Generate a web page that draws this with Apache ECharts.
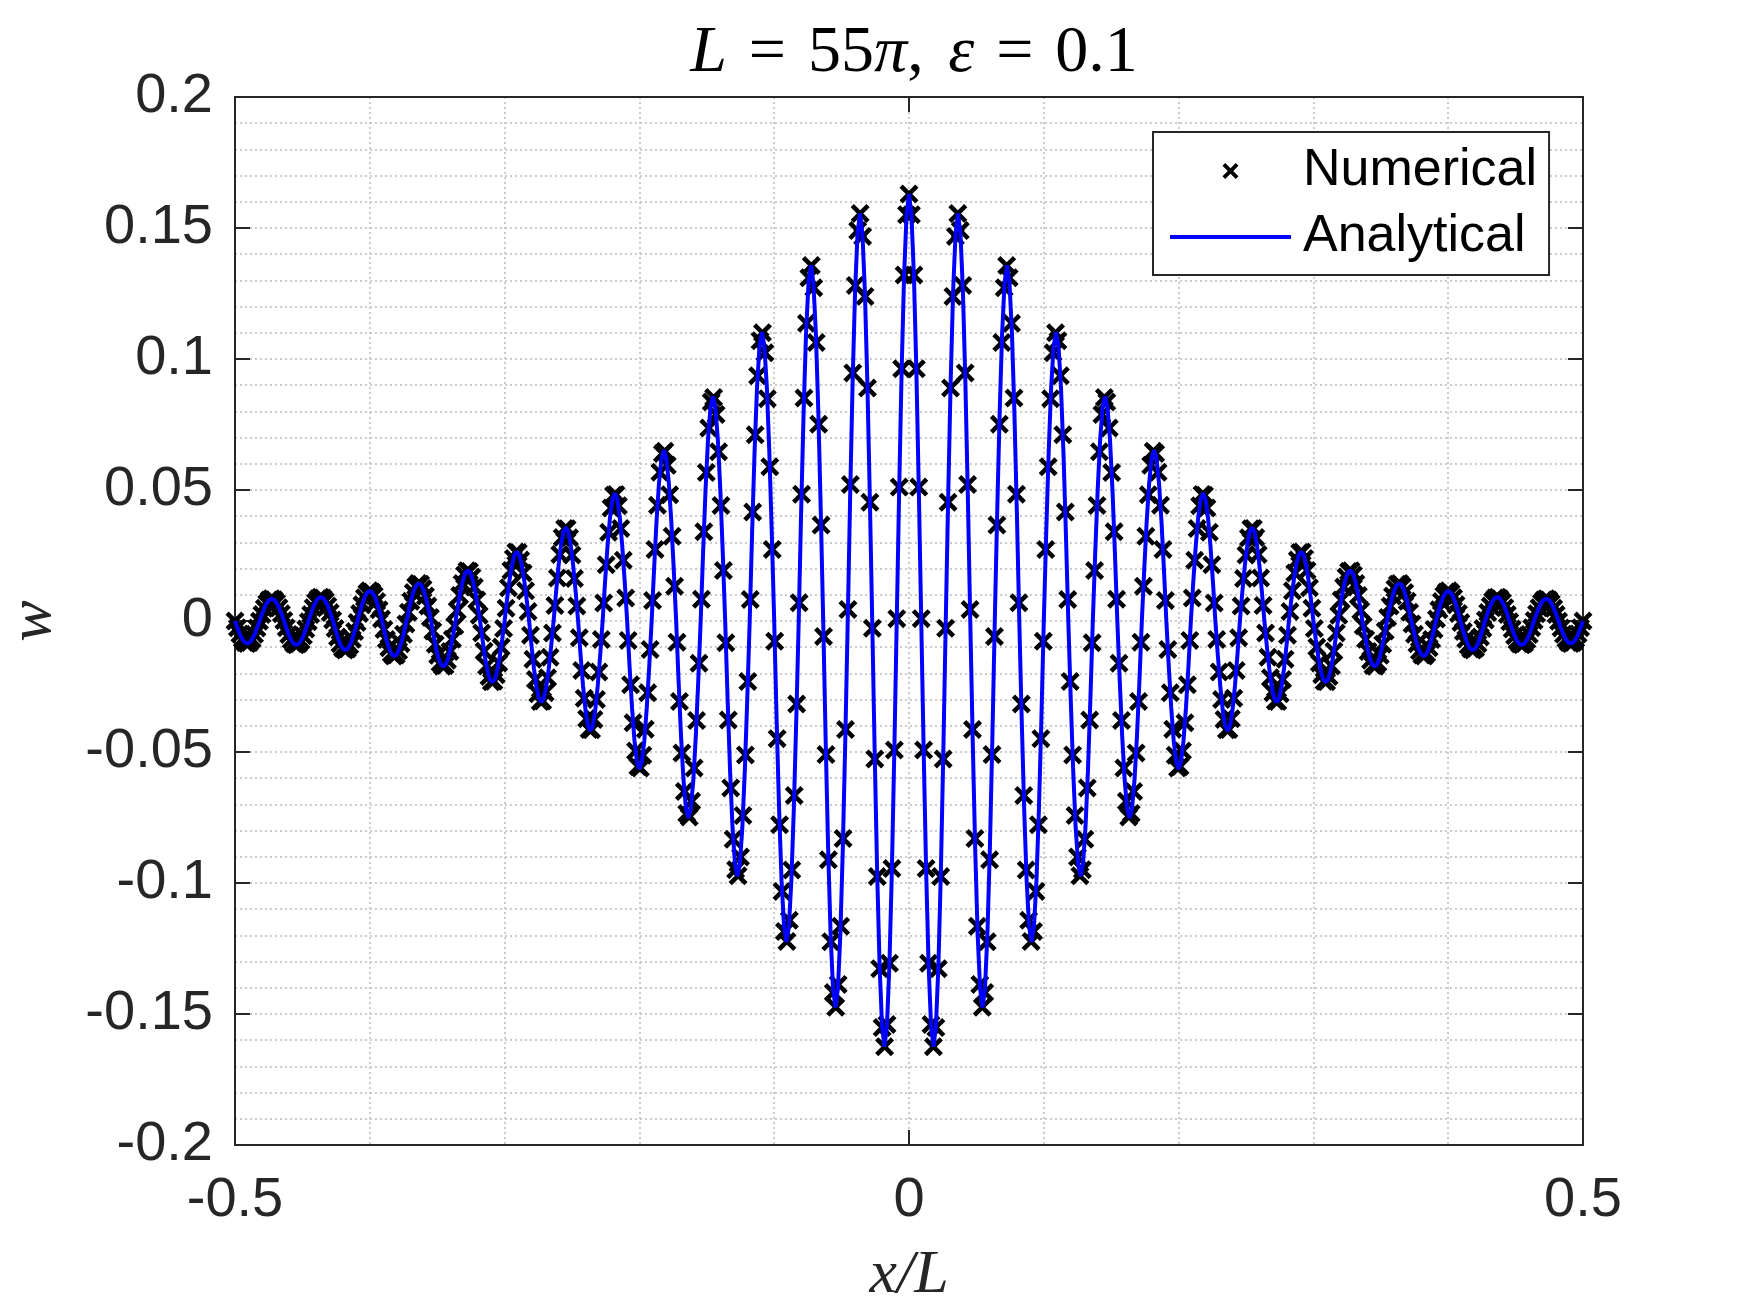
<!DOCTYPE html>
<html>
<head>
<meta charset="utf-8">
<title>L = 55π, ε = 0.1</title>
<script src="https://cdn.jsdelivr.net/npm/echarts@6.0.0/dist/echarts.min.js"></script>
<style>
  html, body { margin: 0; padding: 0; background: #fff; }
  #chart { width: 1750px; height: 1313px; }
</style>
</head>
<body>
<div id="chart"></div>
<script>
// both curves run over x/L = -0.5 ... 0.5 on an even grid
const xStart = -0.5
const analyticalStep = 1 / 550   // 551 points
const numericalStep = 1 / 552    // 553 points

// analytical solution w(x/L), one half wave per line
const wAnalytical = [
  0, -.0027, -.0051, -.0070, -.0082, -.0086, -.0082, -.0070, -.0051, -.0027,
  0, .0026, .0050, .0069, .0081, .0085, .0081, .0069, .0050, .0026,
  0, -.0028, -.0054, -.0074, -.0087, -.0091, -.0087, -.0074, -.0054, -.0028,
  0, .0028, .0054, .0074, .0087, .0091, .0087, .0074, .0054, .0028,
  0, -.0034, -.0065, -.0090, -.0106, -.0111, -.0106, -.0090, -.0065, -.0034,
  0, .0036, .0068, .0093, .0109, .0115, .0109, .0093, .0068, .0036,
  0, -.0041, -.0079, -.0108, -.0127, -.0134, -.0127, -.0108, -.0079, -.0041,
  0, .0044, .0085, .0116, .0137, .0144, .0137, .0116, .0085, .0044,
  0, -.0054, -.0102, -.0141, -.0165, -.0174, -.0165, -.0141, -.0102, -.0054,
  0, .0060, .0113, .0156, .0184, .0193, .0184, .0156, .0113, .0060,
  0, -.0072, -.0138, -.0189, -.0223, -.0234, -.0223, -.0189, -.0138, -.0072,
  0, .0082, .0156, .0214, .0252, .0265, .0252, .0214, .0156, .0082,
  0, -.0096, -.0182, -.0251, -.0295, -.0310, -.0295, -.0251, -.0182, -.0096,
  0, .0110, .0210, .0289, .0340, .0357, .0340, .0289, .0210, .0110,
  0, -.0130, -.0247, -.0340, -.0399, -.0420, -.0399, -.0340, -.0247, -.0130,
  0, .0151, .0287, .0395, .0464, .0488, .0464, .0395, .0287, .0151,
  0, -.0175, -.0332, -.0457, -.0537, -.0565, -.0537, -.0457, -.0332, -.0175,
  0, .0201, .0383, .0527, .0620, .0652, .0620, .0527, .0383, .0201,
  0, -.0232, -.0442, -.0608, -.0715, -.0752, -.0715, -.0608, -.0442, -.0232,
  0, .0265, .0504, .0693, .0815, .0857, .0815, .0693, .0504, .0265,
  0, -.0301, -.0573, -.0789, -.0927, -.0975, -.0927, -.0789, -.0573, -.0301,
  0, .0341, .0649, .0892, .1049, .1103, .1049, .0892, .0649, .0341,
  0, -.0379, -.0720, -.0991, -.1165, -.1225, -.1165, -.0991, -.0720, -.0379,
  0, .0420, .0799, .1099, .1291, .1358, .1291, .1099, .0799, .0420,
  0, -.0456, -.0867, -.1193, -.1403, -.1475, -.1403, -.1193, -.0867, -.0456,
  0, .0480, .0914, .1258, .1479, .1555, .1479, .1258, .0914, .0480,
  0, -.0502, -.0956, -.1315, -.1545, -.1625, -.1545, -.1315, -.0956, -.0502,
  0, .0504, .0958, .1319, .1550, .1630, .1550, .1319, .0958, .0504,
  0, -.0502, -.0956, -.1315, -.1545, -.1625, -.1545, -.1315, -.0956, -.0502,
  0, .0480, .0914, .1258, .1479, .1555, .1479, .1258, .0914, .0480,
  0, -.0456, -.0867, -.1193, -.1403, -.1475, -.1403, -.1193, -.0867, -.0456,
  0, .0420, .0799, .1099, .1291, .1358, .1291, .1099, .0799, .0420,
  0, -.0379, -.0720, -.0991, -.1165, -.1225, -.1165, -.0991, -.0720, -.0379,
  0, .0341, .0649, .0892, .1049, .1103, .1049, .0892, .0649, .0341,
  0, -.0301, -.0573, -.0789, -.0927, -.0975, -.0927, -.0789, -.0573, -.0301,
  0, .0265, .0504, .0693, .0815, .0857, .0815, .0693, .0504, .0265,
  0, -.0232, -.0442, -.0608, -.0715, -.0752, -.0715, -.0608, -.0442, -.0232,
  0, .0201, .0383, .0527, .0620, .0652, .0620, .0527, .0383, .0201,
  0, -.0175, -.0332, -.0457, -.0537, -.0565, -.0537, -.0457, -.0332, -.0175,
  0, .0151, .0287, .0395, .0464, .0488, .0464, .0395, .0287, .0151,
  0, -.0130, -.0247, -.0340, -.0399, -.0420, -.0399, -.0340, -.0247, -.0130,
  0, .0110, .0210, .0289, .0340, .0357, .0340, .0289, .0210, .0110,
  0, -.0096, -.0182, -.0251, -.0295, -.0310, -.0295, -.0251, -.0182, -.0096,
  0, .0082, .0156, .0214, .0252, .0265, .0252, .0214, .0156, .0082,
  0, -.0072, -.0138, -.0189, -.0223, -.0234, -.0223, -.0189, -.0138, -.0072,
  0, .0060, .0113, .0156, .0184, .0193, .0184, .0156, .0113, .0060,
  0, -.0054, -.0102, -.0141, -.0165, -.0174, -.0165, -.0141, -.0102, -.0054,
  0, .0044, .0085, .0116, .0137, .0144, .0137, .0116, .0085, .0044,
  0, -.0041, -.0079, -.0108, -.0127, -.0134, -.0127, -.0108, -.0079, -.0041,
  0, .0036, .0068, .0093, .0109, .0115, .0109, .0093, .0068, .0036,
  0, -.0034, -.0065, -.0090, -.0106, -.0111, -.0106, -.0090, -.0065, -.0034,
  0, .0028, .0054, .0074, .0087, .0091, .0087, .0074, .0054, .0028,
  0, -.0028, -.0054, -.0074, -.0087, -.0091, -.0087, -.0074, -.0054, -.0028,
  0, .0026, .0050, .0069, .0081, .0085, .0081, .0069, .0050, .0026,
  0, -.0027, -.0051, -.0070, -.0082, -.0086, -.0082, -.0070, -.0051, -.0027,
  0
]

// numerical solution (the x markers), slightly different grid
const wNumerical = [
  0,
  -.0026, -.0050, -.0069, -.0082, -.0086, -.0082, -.0070, -.0051, -.0027, -.0001,
  .0025, .0049, .0068, .0080, .0085, .0081, .0070, .0051, .0028, .0002,
  -.0026, -.0052, -.0072, -.0086, -.0091, -.0087, -.0075, -.0056, -.0031, -.0003,
  .0025, .0051, .0072, .0085, .0091, .0088, .0076, .0057, .0032, .0004,
  -.0029, -.0061, -.0087, -.0104, -.0111, -.0107, -.0093, -.0070, -.0040, -.0006,
  .0029, .0062, .0089, .0107, .0115, .0111, .0097, .0074, .0043, .0008,
  -.0032, -.0071, -.0102, -.0124, -.0134, -.0130, -.0114, -.0087, -.0051, -.0011,
  .0033, .0075, .0109, .0133, .0143, .0140, .0123, .0095, .0057, .0013,
  -.0038, -.0089, -.0131, -.0160, -.0173, -.0170, -.0150, -.0116, -.0070, -.0018,
  .0040, .0097, .0143, .0176, .0192, .0189, .0168, .0130, .0080, .0022,
  -.0046, -.0115, -.0172, -.0212, -.0232, -.0230, -.0205, -.0160, -.0099, -.0029,
  .0049, .0127, .0193, .0239, .0263, .0261, .0233, .0183, .0115, .0036,
  -.0054, -.0146, -.0223, -.0278, -.0307, -.0305, -.0274, -.0217, -.0138, -.0046,
  .0059, .0164, .0254, .0319, .0353, .0352, .0318, .0252, .0162, .0057,
  -.0064, -.0189, -.0295, -.0373, -.0414, -.0415, -.0376, -.0300, -.0195, -.0071,
  .0069, .0215, .0339, .0431, .0480, .0483, .0440, .0353, .0232, .0088,
  -.0074, -.0243, -.0388, -.0496, -.0555, -.0561, -.0512, -.0413, -.0274, -.0109,
  .0078, .0273, .0442, .0568, .0639, .0648, .0594, .0482, .0323, .0133,
  -.0081, -.0307, -.0504, -.0651, -.0735, -.0748, -.0688, -.0561, -.0380, -.0161,
  .0083, .0341, .0567, .0737, .0836, .0853, .0788, .0646, .0441, .0193,
  -.0083, -.0378, -.0637, -.0833, -.0949, -.0972, -.0901, -.0742, -.0511, -.0231,
  .0082, .0416, .0711, .0936, .1070, .1100, .1024, .0848, .0589, .0273,
  -.0077, -.0449, -.0778, -.1032, -.1185, -.1223, -.1142, -.0950, -.0666, -.0317,
  .0070, .0484, .0851, .1136, .1310, .1357, .1272, .1063, .0751, .0366,
  -.0059, -.0510, -.0911, -.1224, -.1418, -.1474, -.1387, -.1165, -.0830, -.0414,
  .0044, .0521, .0947, .1281, .1490, .1555, .1468, .1239, .0889, .0453,
  -.0028, -.0527, -.0975, -.1327, -.1552, -.1625, -.1540, -.1306, -.0945, -.0492,
  .0009, .0511, .0963, .1321, .1551,
  .1630,
  .1551, .1321, .0963, .0511, .0009,
  -.0492, -.0945, -.1306, -.1540, -.1625, -.1552, -.1327, -.0975, -.0527, -.0028,
  .0453, .0889, .1239, .1468, .1555, .1490, .1281, .0947, .0521, .0044,
  -.0414, -.0830, -.1165, -.1387, -.1474, -.1418, -.1224, -.0911, -.0510, -.0059,
  .0366, .0751, .1063, .1272, .1357, .1310, .1136, .0851, .0484, .0070,
  -.0317, -.0666, -.0950, -.1142, -.1223, -.1185, -.1032, -.0778, -.0449, -.0077,
  .0273, .0589, .0848, .1024, .1100, .1070, .0936, .0711, .0416, .0082,
  -.0231, -.0511, -.0742, -.0901, -.0972, -.0949, -.0833, -.0637, -.0378, -.0083,
  .0193, .0441, .0646, .0788, .0853, .0836, .0737, .0567, .0341, .0083,
  -.0161, -.0380, -.0561, -.0688, -.0748, -.0735, -.0651, -.0504, -.0307, -.0081,
  .0133, .0323, .0482, .0594, .0648, .0639, .0568, .0442, .0273, .0078,
  -.0109, -.0274, -.0413, -.0512, -.0561, -.0555, -.0496, -.0388, -.0243, -.0074,
  .0088, .0232, .0353, .0440, .0483, .0480, .0431, .0339, .0215, .0069,
  -.0071, -.0195, -.0300, -.0376, -.0415, -.0414, -.0373, -.0295, -.0189, -.0064,
  .0057, .0162, .0252, .0318, .0352, .0353, .0319, .0254, .0164, .0059,
  -.0046, -.0138, -.0217, -.0274, -.0305, -.0307, -.0278, -.0223, -.0146, -.0054,
  .0036, .0115, .0183, .0233, .0261, .0263, .0239, .0193, .0127, .0049,
  -.0029, -.0099, -.0160, -.0205, -.0230, -.0232, -.0212, -.0172, -.0115, -.0046,
  .0022, .0080, .0130, .0168, .0189, .0192, .0176, .0143, .0097, .0040,
  -.0018, -.0070, -.0116, -.0150, -.0170, -.0173, -.0160, -.0131, -.0089, -.0038,
  .0013, .0057, .0095, .0123, .0140, .0143, .0133, .0109, .0075, .0033,
  -.0011, -.0051, -.0087, -.0114, -.0130, -.0134, -.0124, -.0102, -.0071, -.0032,
  .0008, .0043, .0074, .0097, .0111, .0115, .0107, .0089, .0062, .0029,
  -.0006, -.0040, -.0070, -.0093, -.0107, -.0111, -.0104, -.0087, -.0061, -.0029,
  .0004, .0032, .0057, .0076, .0088, .0091, .0085, .0072, .0051, .0025,
  -.0003, -.0031, -.0056, -.0075, -.0087, -.0091, -.0086, -.0072, -.0052, -.0026,
  .0002, .0028, .0051, .0070, .0081, .0085, .0080, .0068, .0049, .0025,
  -.0001, -.0027, -.0051, -.0070, -.0082, -.0086, -.0082, -.0069, -.0050, -.0026,
  0
]

const xTicks = [-0.5, 0, 0.5]
const yTicks = [-0.2, -0.15, -0.1, -0.05, 0, 0.05, 0.1, 0.15, 0.2]

const analyticalPoints = wAnalytical.map((w, i) => [xStart + i * analyticalStep, w])
const numericalPoints = wNumerical.map((w, i) => [xStart + i * numericalStep, w])

// MATLAB style 'x' marker
const crossPath = 'path://M0,1.7L1.7,0L5,3.3L8.3,0L10,1.7L6.7,5L10,8.3L8.3,10L5,6.7L1.7,10L0,8.3L3.3,5Z'

const axisColor = '#262626'
const gridLine = { show: true, lineStyle: { color: '#bcbcbc', width: 1.5, type: [2, 3] } }
const boxTick = { show: true, inside: true, length: 15, lineStyle: { color: axisColor, width: 2 } }
const boxLine = { show: true, onZero: false, lineStyle: { color: axisColor, width: 2 } }

function fmt(v) {
  return String(+v.toFixed(2))
}

const chart = echarts.init(document.getElementById('chart'))
chart.setOption({
  animation: false,
  backgroundColor: '#fff',
  title: {
    text: '{i|L}{e|=}55{i|π},{s| }{i|ε}{e|=}0.1',
    left: 909,
    top: 16,
    textAlign: 'center',
    textStyle: {
      fontFamily: 'Liberation Serif',
      fontSize: 66,
      fontWeight: 'normal',
      color: '#000',
      rich: {
        i: { fontFamily: 'Liberation Serif', fontStyle: 'italic', fontSize: 66, color: '#000' },
        e: { fontFamily: 'Liberation Serif', fontSize: 66, color: '#000', padding: [0, 22] },
        s: { fontFamily: 'Liberation Serif', fontSize: 66, padding: [0, 4] }
      }
    }
  },
  legend: {
    orient: 'vertical',
    left: 1153,
    top: 132,
    padding: [11, 12, 10, 15],
    itemWidth: 121,
    itemHeight: 16,
    itemGap: 10,
    backgroundColor: '#fff',
    borderColor: axisColor,
    borderWidth: 2,
    borderRadius: 0,
    textStyle: {
      fontFamily: 'Liberation Sans',
      fontSize: 52,
      lineHeight: 56,
      color: '#000',
      padding: [0, 0, 0, 7]
    },
    data: [
      { name: 'Numerical', icon: crossPath, itemStyle: { opacity: 1 } },
      // the line icon only: hide the dot ECharts puts in its middle
      { name: 'Analytical', itemStyle: { opacity: 0 }, lineStyle: { width: 4, color: '#0000ff' } }
    ]
  },
  grid: { left: 235, right: 167, top: 97, bottom: 168, containLabel: false, outerBoundsMode: 'none' },
  xAxis: [
    {
      type: 'value',
      min: xTicks[0],
      max: xTicks[xTicks.length - 1],
      interval: 0.5,
      name: 'x/L',
      nameLocation: 'middle',
      nameGap: 100,
      nameTextStyle: { fontFamily: 'Liberation Serif', fontStyle: 'italic', fontSize: 62, color: axisColor },
      axisLine: boxLine,
      axisTick: boxTick,
      minorTick: { show: false, splitNumber: 5 },
      axisLabel: {
        margin: 28,
        fontFamily: 'Liberation Sans',
        fontSize: 56,
        color: axisColor,
        formatter: fmt
      },
      splitLine: gridLine,
      minorSplitLine: gridLine
    },
    {
      type: 'value',
      position: 'top',
      min: xTicks[0],
      max: xTicks[xTicks.length - 1],
      interval: 0.5,
      axisLine: boxLine,
      axisTick: boxTick,
      axisLabel: { show: false },
      splitLine: { show: false }
    }
  ],
  yAxis: [
    {
      type: 'value',
      min: yTicks[0],
      max: yTicks[yTicks.length - 1],
      interval: 0.05,
      name: 'w',
      nameLocation: 'middle',
      nameRotate: 90,
      nameGap: 170,
      nameTextStyle: { fontFamily: 'Liberation Serif', fontStyle: 'italic', fontSize: 62, color: axisColor },
      axisLine: boxLine,
      axisTick: boxTick,
      minorTick: { show: false, splitNumber: 5 },
      axisLabel: {
        margin: 22,
        fontFamily: 'Liberation Sans',
        fontSize: 56,
        color: axisColor,
        formatter: fmt
      },
      splitLine: gridLine,
      minorSplitLine: gridLine
    },
    {
      type: 'value',
      position: 'right',
      min: yTicks[0],
      max: yTicks[yTicks.length - 1],
      interval: 0.05,
      axisLine: boxLine,
      axisTick: boxTick,
      axisLabel: { show: false },
      splitLine: { show: false }
    }
  ],
  series: [
    {
      name: 'Numerical',
      type: 'scatter',
      data: numericalPoints,
      symbol: crossPath,
      symbolSize: 19,
      itemStyle: { color: '#000', opacity: 1 },
      z: 2
    },
    {
      name: 'Analytical',
      type: 'line',
      data: analyticalPoints,
      showSymbol: false,
      symbol: 'none',
      lineStyle: { color: '#0000ff', width: 4 },
      itemStyle: { color: '#0000ff' },
      z: 3
    }
  ]
})
</script>
</body>
</html>
